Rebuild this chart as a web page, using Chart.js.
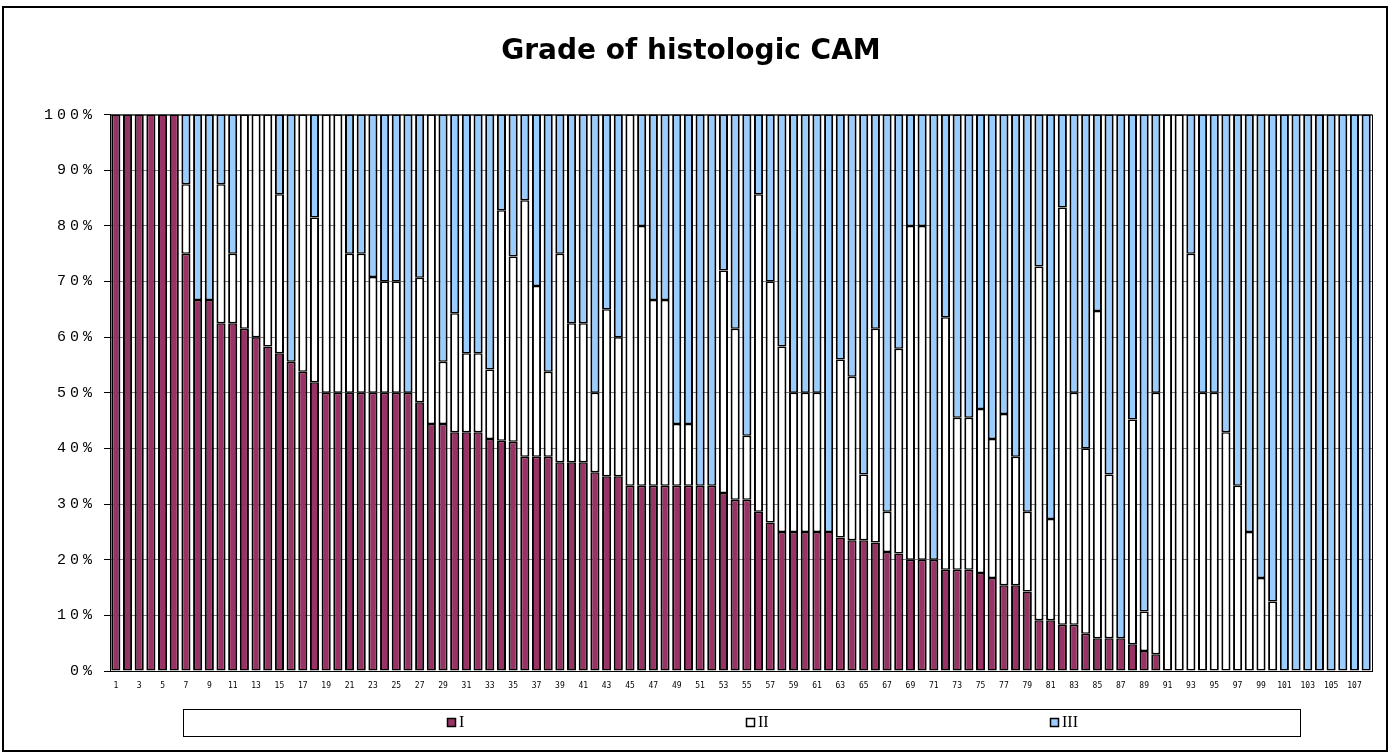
<!DOCTYPE html>
<html>
<head>
<meta charset="utf-8">
<script src="https://cdn.jsdelivr.net/npm/chart.js@4.4.1/dist/chart.umd.min.js"></script>
<style>
  html, body { margin: 0; padding: 0; background: #fff; }
  #wrap { width: 1392px; height: 755px; }
</style>
</head>
<body>
<div id="wrap"><canvas id="cam-chart" width="1392" height="755"></canvas></div>
<script>
// case numbers 1..108
var categories = [];
for (var i = 1; i <= 108; i++) categories.push(String(i));

var seriesNames = ["I", "II", "III"];
var seriesColors = ["#993366", "#ffffff", "#99ccff"];

// percent of grade I per case
var gradeI = [100,100,100,100,100,100, 75,66.7,66.7,62.5,
  62.5,61.5,60,58.3,57.1, 55.6,53.8,51.9,50,50,
  50,50,50,50,50, 50,48.3,44.4,44.4,42.9,
  42.9,42.9,41.7,41.4,41.2, 38.5,38.5,38.5,37.5,37.5,
  37.5,35.7,35,35,33.3, 33.3,33.3,33.3,33.3,33.3,
  33.3,33.3,32,30.8,30.8, 28.6,26.7,25,25,25,
  25,25,24,23.5,23.5, 23.1,21.4,21.1,20,20,
  20,18.2,18.2,18.2,17.6, 16.7,15.4,15.4,14.3,9.1,
  9.1,8.3,8.3,6.7,5.9, 5.9,5.9,4.8,3.6,3,
  0,0,0,0,0, 0,0,0,0,0, 0,0,0,0,0, 0,0,0];

// percent of grade II per case
var gradeII = [0,0,0,0,0,0, 12.5,0,0,25,
  12.5,38.5,40,41.7,28.6, 0,46.2,29.6,50,50,
  25,25,20.8,20,20, 0,22.4,55.6,11.2,21.4,
  14.2,14.2,12.5,41.4,33.3, 46.1,30.7,15.3,37.5,25,
  25,14.3,30,25,66.7, 46.7,33.4,33.4,11.1,11.1,
  0,0,40,30.7,11.5, 57.1,43.3,33.3,25,25,
  25,0,32,29.4,11.8, 38.4,7.2,36.8,60,60,
  0,45.4,27.3,27.3,29.5, 25,30.8,23.1,14.3,63.6,
  18.2,75,41.7,33.3,58.8, 29.4,0,40.4,7.1,47,
  100,100,75,50,50, 42.9,33.3,25,16.7,12.5,
  0,0,0,0,0,0,0,0];

// percent of grade III per case
var gradeIII = [0,0,0,0,0,0, 12.5,33.3,33.3,12.5,
  25,0,0,0,14.3, 44.4,0,18.5,0,0,
  25,25,29.2,30,30, 50,29.3,0,44.4,35.7,
  42.9,42.9,45.8,17.2,25.5, 15.4,30.8,46.2,25,37.5,
  37.5,50,35,40,0, 20,33.3,33.3,55.6,55.6,
  66.7,66.7,28,38.5,57.7, 14.3,30,41.7,50,50,
  50,75,44,47.1,64.7, 38.5,71.4,42.1,20,20,
  80,36.4,54.5,54.5,52.9, 58.3,53.8,61.5,71.4,27.3,
  72.7,16.7,50,60,35.3, 64.7,94.1,54.8,89.3,50,
  0,0,25,50,50, 57.1,66.7,75,83.3,87.5,
  100,100,100,100,100,100,100,100];

var seriesValues = [gradeI, gradeII, gradeIII];

var datasets = seriesNames.map(function(name, k){
    return {
        label: name,
        data: seriesValues[k],
        backgroundColor: seriesColors[k],
        borderColor: "#000000",
        borderWidth: { left: 2, right: 2, top: 1.5, bottom: 1.5 },
        borderSkipped: false,
        inflateAmount: 0,
        categoryPercentage: 1.0,
        barPercentage: 0.78
    };
});

// frame, plot border and the boxed legend
var framePlugin = {
    id: "frame",
    beforeDatasetsDraw: function(chart){
        var c = chart.ctx, a = chart.chartArea;
        c.save();
        c.strokeStyle = "#000";
        c.lineWidth = 1;
        c.strokeRect(a.left + 0.5, a.top + 0.5, a.right - a.left, a.bottom - a.top);
        c.restore();
    },
    afterDraw: function(chart){
        var c = chart.ctx;
        c.save();
        c.strokeStyle = "#000";
        c.lineWidth = 2;
        c.strokeRect(3, 7, 1384, 744);

        // legend
        c.lineWidth = 1;
        c.strokeRect(183.5, 709.5, 1117, 27);
        var xs = [447, 746, 1050];
        c.font = "16px 'Liberation Serif'";
        c.textBaseline = "middle";
        c.textAlign = "left";
        chart.data.datasets.forEach(function(ds, k){
            c.fillStyle = ds.backgroundColor;
            c.fillRect(xs[k], 718, 9, 9);
            c.strokeStyle = "#000";
            c.lineWidth = 1.5;
            c.strokeRect(xs[k] + 0.5, 718.5, 8, 8);
            c.fillStyle = "#000";
            c.fillText(ds.label, xs[k] + 12, 723);
        });
        c.restore();
    }
};

var chartOptions = {
    responsive: false,
    animation: false,
    layout: { padding: { left: 10, right: 20, top: 0, bottom: 62 } },
    plugins: {
        legend: { display: false },
        tooltip: { enabled: false },
        title: {
            display: true,
            text: "Grade of histologic CAM",
            color: "#000",
            font: { family: "'DejaVu Sans'", size: 28, weight: "bold" },
            padding: { top: 35, bottom: 46 }
        }
    },
    scales: {
        x: {
            stacked: true,
            afterFit: function(s){ s.height = 22; },
            grid: { display: false },
            border: { color: "#000", width: 1 },
            ticks: {
                autoSkip: false,
                maxRotation: 0,
                minRotation: 0,
                padding: 2,
                color: "#000",
                font: { family: "'DejaVu Sans Mono'", size: 8 },
                callback: function(v, idx){ return idx % 2 === 0 ? categories[idx] : ""; }
            }
        },
        y: {
            stacked: true,
            min: 0,
            max: 100,
            afterFit: function(s){ s.width = 100; },
            grid: { color: "#808080", lineWidth: 1, tickLength: 6, tickColor: "#000" },
            border: { color: "#000", width: 1 },
            ticks: {
                stepSize: 10,
                padding: 8,
                color: "#000",
                font: { family: "'Liberation Mono'", size: 15 },
                callback: function(v){ return v + "%"; }
            }
        }
    }
};

var config = {
    type: "bar",
    data: { labels: categories, datasets: datasets },
    options: chartOptions,
    plugins: [framePlugin]
};

var camChart = new Chart(document.getElementById("cam-chart"), config);

// spaced-out y labels like the original
var yScale = camChart.scales.y;
var drawYLabels = yScale.drawLabels;
yScale.drawLabels = function(area){
    var c = this.ctx;
    c.save();
    c.letterSpacing = "4px";
    drawYLabels.call(this, area);
    c.restore();
};
camChart.draw();
</script>
</body>
</html>
